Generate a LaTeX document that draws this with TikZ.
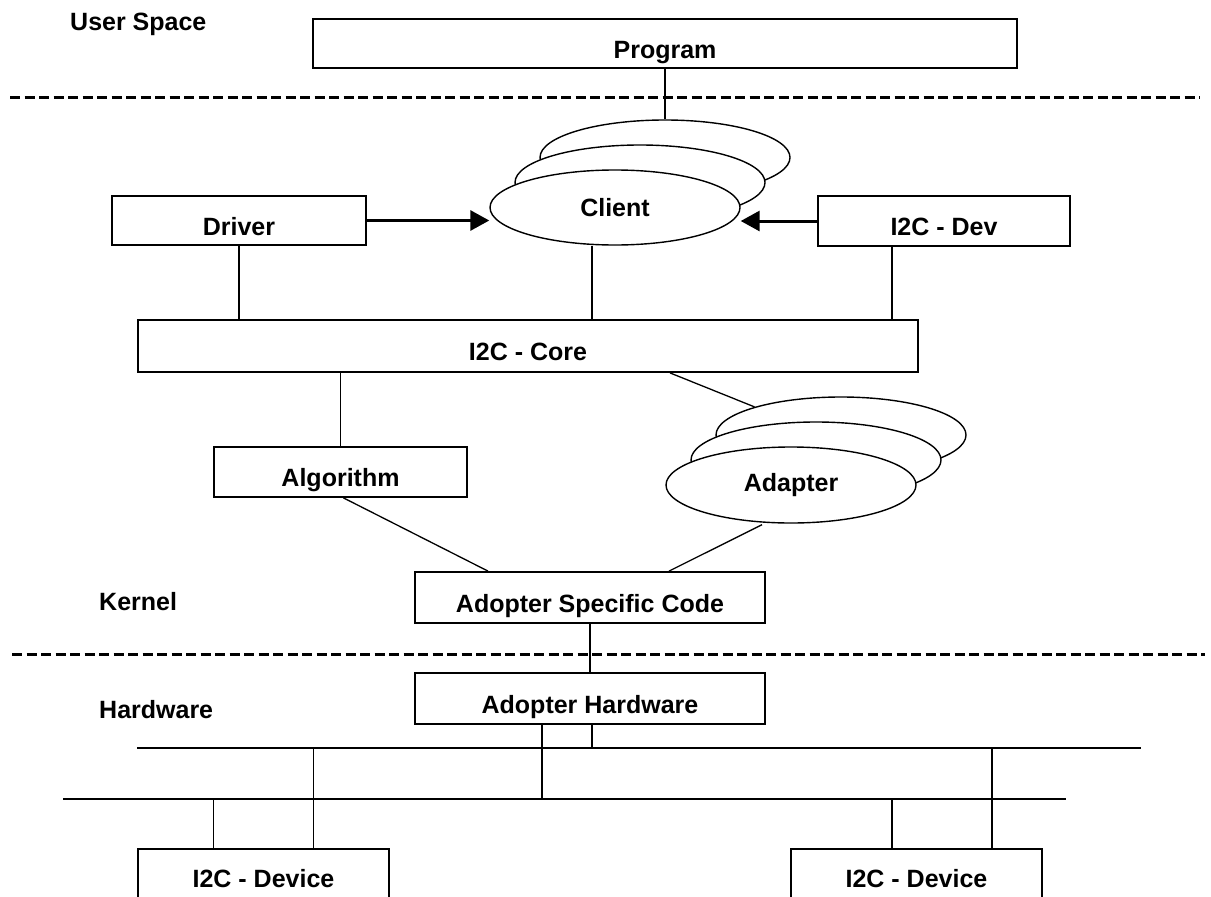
\documentclass[tikz,border=0pt]{standalone}
\usepackage{fontspec}
\setmainfont{Liberation Sans}
\usetikzlibrary{shapes.geometric,arrows.meta}
\begin{document}
\begin{tikzpicture}[x=1pt,y=-1pt,
  every node/.style={font=\fontsize{25}{30}\selectfont\bfseries},
  box/.style={draw,line width=1.8pt,rectangle,inner sep=0pt,fill=white,text height=29pt,text depth=0pt},
  ell/.style={draw,line width=1.4pt,ellipse,inner sep=0pt,fill=white,minimum width=250pt,minimum height=75pt},
  conn/.style={line width=1.3pt},
  bus/.style={line width=2pt},
  sep/.style={line width=3pt,dash pattern=on 10pt off 4.5pt},
  arr/.style={line width=3pt,-{Triangle[length=19pt,width=20pt]}},
  lbl/.style={anchor=west,inner sep=0pt}]
\useasboundingbox (0,0) rectangle (1211,897);
% separators
\coordinate (s1a) at (10,97); \coordinate (s1b) at (1200,97);
\coordinate (s2a) at (12,654); \coordinate (s2b) at (1205,654);
\draw[sep] (s1a) -- (s1b);
\draw[sep] (s2a) -- (s2b);
% labels
\node[lbl] (us) at (70,24) {User Space};
\node[lbl] (kern) at (99,602) {Kernel};
\node[lbl] (hw) at (99,710) {Hardware};
% boxes
\node[box,minimum width=704pt,minimum height=49pt] (prog) at (665,43.5) {Program};
\node[box,minimum width=254pt,minimum height=49pt] (drv) at (239,220.5) {Driver};
\node[box,minimum width=252pt,minimum height=50pt] (idev) at (944,221) {I2C - Dev};
\node[box,minimum width=780pt,minimum height=52pt] (core) at (528,346) {I2C - Core};
\node[box,minimum width=253pt,minimum height=50pt] (alg) at (340.5,472) {Algorithm};
\node[box,minimum width=350pt,minimum height=51pt] (asc) at (590,597.5) {Adopter Specific Code};
\node[box,minimum width=350pt,minimum height=51pt] (ah) at (590,698.5) {Adopter Hardware};
\node[box,minimum width=251pt,minimum height=54pt,text height=22pt] (devL) at (263.5,876) {I2C - Device};
\node[box,minimum width=251pt,minimum height=54pt,text height=22pt] (devR) at (916.5,876) {I2C - Device};
% client ellipses
\node[ell] (clback) at (665,157.5) {};
\node[ell] (clmid) at (640,182.5) {};
\node[ell] (client) at (615,207.5) {Client};
% adapter ellipses
\node[ell,minimum height=76pt] (adback) at (841,435) {};
\node[ell,minimum height=76pt] (admid) at (816,460) {};
\node[ell,minimum height=76pt] (adapter) at (791,485) {Adapter};
% connectors
\draw[conn] (prog.south) -- (clback.north);
\draw[arr] (drv.east) -- (drv.east -| client.west);
\draw[arr] (idev.west) -- (idev.west -| client.east);
\draw[conn] (drv.south) -- (drv.south |- core.north);
\draw[conn] ([xshift=-23pt]client.south) -- ([xshift=-23pt]client.south |- core.north);
\draw[conn] ([xshift=-52pt]idev.south) -- ([xshift=-52pt]idev.south |- core.north);
\draw[conn] (alg.north |- core.south) -- (alg.north);
\draw[conn] ([xshift=142pt]core.south) -- (adback.162);
\draw[conn] ([xshift=3pt]alg.south) -- ([xshift=-102pt]asc.north);
\draw[conn] ([xshift=-29pt,yshift=-1pt]adapter.south) -- ([xshift=79pt]asc.north);
\draw[conn] (asc.south) -- (ah.north);
% buses
\coordinate (ub1) at (137,748); \coordinate (ub2) at (1141,748);
\coordinate (lb1) at (63,799); \coordinate (lb2) at (1066,799);
\draw[bus] (ub1) -- (ub2);
\draw[bus] (lb1) -- (lb2);
\draw[conn] ([xshift=2pt]ah.south) -- ([xshift=2pt]ah.south |- ub1);
\draw[conn] ([xshift=-48pt]ah.south) -- ([xshift=-48pt]ah.south |- lb1);
\draw[conn] ([xshift=-50pt]devL.north |- lb1) -- ([xshift=-50pt]devL.north);
\draw[conn] ([xshift=50pt]devL.north |- ub1) -- ([xshift=50pt]devL.north);
\draw[conn] ([xshift=-24.5pt]devR.north |- lb1) -- ([xshift=-24.5pt]devR.north);
\draw[conn] ([xshift=75.5pt]devR.north |- ub1) -- ([xshift=75.5pt]devR.north);
\end{tikzpicture}
\end{document}
